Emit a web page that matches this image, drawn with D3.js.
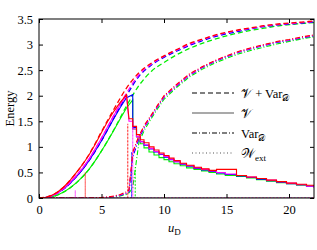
<!DOCTYPE html>
<html>
<head>
<meta charset="utf-8">
<script src="https://cdn.jsdelivr.net/npm/d3@7"></script>
<style>
  body { margin: 0; background: #fff; }
  svg text { font-family: "Liberation Serif", "DejaVu Serif", serif; fill: #000; }
</style>
</head>
<body>
<svg id="chart" width="317" height="250"></svg>
<script>
"use strict";

const X_TICKS = [0, 5, 10, 15, 20];
const Y_TICKS = [0, 0.5, 1, 1.5, 2, 2.5, 3, 3.5];
const SERIES = ['green', 'blue', 'magenta', 'red'];
const COLORS = { green: '#00ee00', blue: '#0000ff', magenta: '#ff00ff', red: '#ff0000' };

// V + Var_D (dashed)
const uTotal = [0,1,2,3,4,5,6,7,8,9,10,11,12,13,14,15,16,17,18,19,20,21,22];
const totalRed     = [0,0.05,0.22,0.5,0.85,1.3,1.74,2.15,2.45,2.64,2.78,2.9,3.02,3.1,3.18,3.24,3.29,3.33,3.37,3.4,3.42,3.44,3.46];
const totalMagenta = [0,0.04,0.19,0.44,0.76,1.17,1.62,2.05,2.41,2.62,2.77,2.89,3.0,3.09,3.17,3.23,3.28,3.32,3.36,3.39,3.41,3.43,3.45];
const totalBlue    = [0,0.04,0.18,0.42,0.73,1.12,1.57,2.0,2.38,2.6,2.75,2.87,2.98,3.07,3.15,3.21,3.26,3.31,3.35,3.38,3.4,3.42,3.44];
const totalGreen   = [0,0.02,0.12,0.3,0.56,0.92,1.34,1.8,2.2,2.48,2.65,2.8,2.92,3.02,3.1,3.17,3.23,3.28,3.32,3.36,3.39,3.41,3.43];

// V (solid): rise before the transition, staircase after it
const uRise = [0,0.5,1,1.5,2,2.5,3,3.5,4,4.5,5,5.5,6,6.5,7,7.5];
const riseRed     = [0,0.01,0.05,0.12,0.22,0.35,0.5,0.66,0.84,1.05,1.28,1.5,1.7,1.87,2.02,null];
const riseMagenta = [0,0.01,0.04,0.1,0.19,0.31,0.44,0.59,0.76,0.96,1.17,1.4,1.62,1.83,2.0,null];
const riseBlue    = [0,0.01,0.04,0.1,0.18,0.29,0.42,0.56,0.73,0.92,1.12,1.34,1.56,1.77,1.96,2.02];
const riseGreen   = [0,0.0,0.02,0.06,0.12,0.2,0.3,0.42,0.56,0.73,0.92,1.12,1.33,1.55,1.76,1.92];

const uDecay = [7.2,7.5,7.8,8.1,8.4,8.8,9.2,9.6,10.0,10.4,10.8,11.3,11.8,12.4,13.0,13.6,14.2,14.9,15.8,16.6,17.4,18.2,19.0,19.8,20.6,21.4,22.0];
const decayRed     = [1.55,1.4,1.24,1.14,1.08,1.0,0.94,0.88,0.83,0.78,0.73,0.68,0.64,0.6,0.57,0.54,0.56,0.56,0.44,0.41,0.38,0.35,0.32,0.29,0.27,0.25,0.23];
const decayMagenta = [1.5,1.35,1.2,1.1,1.04,0.97,0.91,0.86,0.81,0.76,0.71,0.67,0.63,0.59,0.56,0.53,0.5,0.47,0.44,0.41,0.38,0.35,0.32,0.29,0.26,0.23,0.2];
const decayBlue    = [null,1.38,1.2,1.1,1.03,0.96,0.9,0.85,0.8,0.75,0.71,0.66,0.62,0.58,0.55,0.52,0.49,0.46,0.43,0.4,0.37,0.34,0.31,0.28,0.26,0.23,0.21];
const decayGreen   = [null,1.35,1.2,1.06,0.98,0.9,0.84,0.79,0.75,0.71,0.67,0.63,0.59,0.56,0.53,0.5,0.47,0.44,0.42,0.39,0.36,0.33,0.3,0.28,0.25,0.23,0.21];

// Var_D (dash-dot)
const uVar = [0,1,2,3,4,5,5.5,6,6.5,7,7.2,7.5,8,8.5,9,9.5,10,11,12,13,14,15,16,17,18,19,20,21,22];
const varRed     = [0,0,0,0,0,0.01,0.02,0.04,0.07,0.12,0.16,0.9,1.22,1.45,1.63,1.82,2.0,2.22,2.42,2.56,2.68,2.78,2.87,2.94,3.0,3.06,3.1,3.15,3.19];
const varMagenta = [0,0,0,0,0,0.01,0.02,0.03,0.06,0.1,0.14,0.86,1.2,1.43,1.61,1.8,1.98,2.2,2.4,2.55,2.67,2.77,2.86,2.93,2.99,3.05,3.09,3.14,3.18];
const varBlue    = [0,0,0,0,0,0,0.01,0.03,0.05,0.09,0.12,0.8,1.17,1.41,1.6,1.79,1.97,2.19,2.39,2.54,2.66,2.76,2.85,2.92,2.98,3.04,3.08,3.13,3.17];
const varGreen   = [0,0,0,0,0,0,0.01,0.02,0.04,0.07,0.1,0.2,1.1,1.36,1.56,1.75,1.93,2.16,2.36,2.51,2.63,2.73,2.82,2.89,2.95,3.01,3.06,3.11,3.15];

// W_ext (dotted): flat with spikes
const uWRed = [0,3.7,3.7,3.7,7.1,7.1,7.1,22];
const wRed  = [0,0,0.5,0,0,1.45,0,0];
const uWMagenta = [0,2.9,2.9,2.9,7.5,7.5,7.5,22];
const wMagenta  = [0,0,0.15,0,0,1.5,0,0];
const uWBlue = [0,7.4,7.4,7.4,22];
const wBlue  = [0,0,0.9,0,0];
const uWGreen = [0,7.7,7.7,7.7,22];
const wGreen  = [0,0,0.6,0,0];

const LEGEND = [
  { label: ['𝒱 + Var', '𝒟'], dash: '5,3' },
  { label: ['𝒱', ''], dash: null },
  { label: ['Var', '𝒟'], dash: '5,2,1,2' },
  { label: ['𝒲', 'ext'], dash: '1,2.5' }
];

const DATA = {
  red:     { total: totalRed, rise: riseRed, decay: decayRed, vr: varRed, wu: uWRed, w: wRed },
  magenta: { total: totalMagenta, rise: riseMagenta, decay: decayMagenta, vr: varMagenta, wu: uWMagenta, w: wMagenta },
  blue:    { total: totalBlue, rise: riseBlue, decay: decayBlue, vr: varBlue, wu: uWBlue, w: wBlue },
  green:   { total: totalGreen, rise: riseGreen, decay: decayGreen, vr: varGreen, wu: uWGreen, w: wGreen }
};

const margin = { top: 19, left: 39, right: 3, bottom: 52 };
const svg = d3.select('#chart');
const W = +svg.attr('width'), H = +svg.attr('height');

const x = d3.scaleLinear().domain([0, 22]).range([margin.left, W - margin.right]);
const y = d3.scaleLinear().domain([0, 3.5]).range([H - margin.bottom, margin.top]);

svg.append('defs').append('clipPath').attr('id', 'clip')
  .append('rect')
  .attr('x', margin.left).attr('y', margin.top)
  .attr('width', x(22) - x(0)).attr('height', y(0) - y(3.5));

function pairs(us, vs) {
  return us.map((u, i) => [u, vs[i]]).filter(p => p[1] !== null);
}

function stepPoints(us, vs) {
  let pts = [];
  for (let i = 0; i < us.length; i++) {
    if (vs[i] === null) { continue; }
    pts.push([us[i], vs[i]]);
    if (i + 1 < us.length) { pts.push([us[i + 1], vs[i]]); }
  }
  return pts;
}

const lineLin = d3.line().x(d => x(d[0])).y(d => y(d[1]));
const lineSmooth = d3.line().x(d => x(d[0])).y(d => y(d[1])).curve(d3.curveMonotoneX);

const plot = svg.append('g').attr('clip-path', 'url(#clip)');

SERIES.forEach(function(name) {
  let d = DATA[name];
  let c = COLORS[name];
  let g = plot.append('g');

  g.append('path')
    .attr('d', lineLin(pairs(d.wu, d.w)))
    .attr('fill', 'none').attr('stroke', c).attr('stroke-width', 1)
    .attr('stroke-dasharray', '2,1.5').attr('opacity', 0.6);

  let vPts = pairs(uRise, d.rise).concat(stepPoints(uDecay, d.decay));
  g.append('path')
    .attr('d', lineLin(vPts))
    .attr('fill', 'none').attr('stroke', c).attr('stroke-width', 1.1);

  g.append('path')
    .attr('d', lineLin(pairs(uVar, d.vr)))
    .attr('fill', 'none').attr('stroke', c).attr('stroke-width', 1.1)
    .attr('stroke-dasharray', '5,2,1,2');

  g.append('path')
    .attr('d', lineSmooth(pairs(uTotal, d.total)))
    .attr('fill', 'none').attr('stroke', c).attr('stroke-width', 1.3)
    .attr('stroke-dasharray', '5,3');
});

// frame and inward ticks on all four sides
svg.append('rect')
  .attr('x', x(0)).attr('y', y(3.5))
  .attr('width', x(22) - x(0)).attr('height', y(0) - y(3.5))
  .attr('fill', 'none').attr('stroke', '#000').attr('stroke-width', 1);

let bottomAxis = d3.axisBottom(x).tickValues(X_TICKS).tickSize(-4).tickPadding(7).tickFormat(d3.format('d'));
let topAxis = d3.axisTop(x).tickValues(X_TICKS).tickSize(-4).tickFormat('');
let leftAxis = d3.axisLeft(y).tickValues(Y_TICKS).tickSize(-4).tickPadding(6).tickFormat(d => String(d));
let rightAxis = d3.axisRight(y).tickValues(Y_TICKS).tickSize(-4).tickFormat('');

function styleAxis(g) {
  g.attr('font-family', null);
  g.select('.domain').remove();
  g.selectAll('.tick line').attr('stroke', '#000');
  g.selectAll('.tick text').attr('font-size', 12.5);
}

svg.append('g').attr('transform', `translate(0, ${y(0)})`).call(bottomAxis).call(styleAxis);
svg.append('g').attr('transform', `translate(0, ${y(3.5)})`).call(topAxis).call(styleAxis);
svg.append('g').attr('transform', `translate(${x(0)}, 0)`).call(leftAxis).call(styleAxis);
svg.append('g').attr('transform', `translate(${x(22)}, 0)`).call(rightAxis).call(styleAxis);

// axis labels
svg.append('text')
  .attr('transform', `translate(14, ${(y(0) + y(3.5)) / 2}) rotate(-90)`)
  .attr('text-anchor', 'middle')
  .attr('font-size', 12.5)
  .text('Energy');

let xl = svg.append('text')
  .attr('x', 168).attr('y', 232)
  .attr('font-size', 12.5);
xl.append('tspan').attr('font-style', 'italic').text('u');
xl.append('tspan').attr('font-size', 9).attr('dy', 3).text('D');

// legend
const legX0 = 192, legX1 = 234, legY0 = 93, legStep = 20;
LEGEND.forEach(function(item, i) {
  let ly = legY0 + i * legStep;
  svg.append('line')
    .attr('x1', legX0).attr('x2', legX1).attr('y1', ly).attr('y2', ly)
    .attr('stroke', i == 1 || i == 3 ? '#555' : '#000')
    .attr('stroke-width', 1.2)
    .attr('stroke-dasharray', item.dash);
  let t = svg.append('text')
    .attr('x', legX0 + 49).attr('y', ly + 4.5)
    .attr('font-size', 12.5);
  t.append('tspan').text(item.label[0]);
  if (item.label[1]) {
    t.append('tspan').attr('font-size', 9).attr('dy', 3).text(item.label[1]);
  }
});
</script>
</body>
</html>
